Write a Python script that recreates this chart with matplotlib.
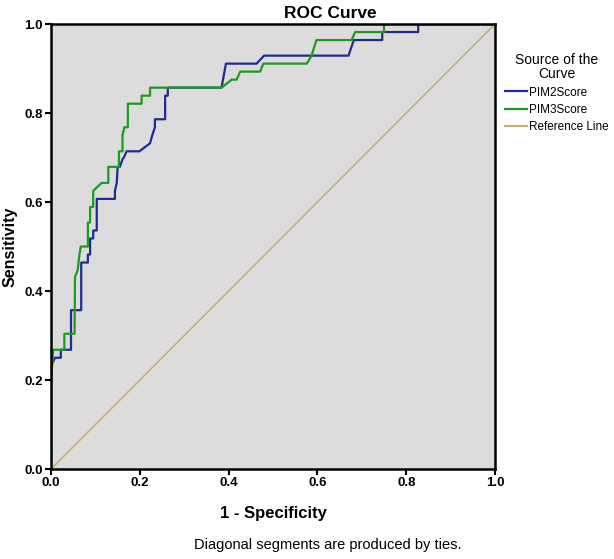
import matplotlib
matplotlib.use("Agg")
import matplotlib.pyplot as plt
from matplotlib.lines import Line2D

plt.rcParams['font.family'] = ['Liberation Sans', 'DejaVu Sans']

# ROC vertices (1 - specificity, sensitivity)
pim2_fpr = [0.0, 0.0, 0.009, 0.022, 0.022, 0.045, 0.045, 0.068, 0.068, 0.083, 0.083,
            0.088, 0.088, 0.095, 0.095, 0.103, 0.103, 0.144, 0.144, 0.148, 0.150,
            0.155, 0.161, 0.165, 0.170, 0.174, 0.199, 0.223, 0.228, 0.234, 0.234,
            0.257, 0.257, 0.263, 0.263, 0.384, 0.394, 0.463, 0.480, 0.670, 0.682,
            0.746, 0.746, 0.827, 0.827, 1.0]
pim2_tpr = [0.0, 0.232, 0.250, 0.250, 0.268, 0.268, 0.357, 0.357, 0.464, 0.464, 0.482,
            0.482, 0.518, 0.518, 0.536, 0.536, 0.607, 0.607, 0.625, 0.643, 0.679,
            0.679, 0.696, 0.702, 0.714, 0.714, 0.714, 0.732, 0.750, 0.768, 0.786,
            0.786, 0.839, 0.839, 0.857, 0.857, 0.911, 0.911, 0.929, 0.929, 0.964,
            0.964, 0.982, 0.982, 1.0, 1.0]

pim3_fpr = [0.0, 0.0, 0.005, 0.030, 0.030, 0.053, 0.054, 0.060, 0.064, 0.067, 0.083,
            0.083, 0.088, 0.088, 0.095, 0.095, 0.114, 0.129, 0.129, 0.153, 0.153,
            0.161, 0.161, 0.165, 0.173, 0.173, 0.204, 0.204, 0.223, 0.223, 0.384,
            0.407, 0.418, 0.426, 0.471, 0.478, 0.576, 0.587, 0.592, 0.598, 0.677,
            0.685, 0.750, 0.750, 1.0]
pim3_tpr = [0.0, 0.196, 0.268, 0.268, 0.304, 0.304, 0.432, 0.446, 0.482, 0.500, 0.500,
            0.554, 0.554, 0.589, 0.589, 0.625, 0.643, 0.643, 0.679, 0.679, 0.714,
            0.714, 0.750, 0.768, 0.768, 0.821, 0.821, 0.839, 0.839, 0.857, 0.857,
            0.875, 0.875, 0.893, 0.893, 0.911, 0.911, 0.929, 0.946, 0.964, 0.964,
            0.982, 0.982, 1.0, 1.0]

ref_x = [0.0, 1.0]
ref_y = [0.0, 1.0]

ticks = [0.0, 0.2, 0.4, 0.6, 0.8, 1.0]
tick_labels = ['0.0', '0.2', '0.4', '0.6', '0.8', '1.0']

blue = '#1f2c8f'
green = '#1e9a22'
tan = '#c4b06a'

fig = plt.figure(figsize=(6.14, 5.59), dpi=100)
ax = fig.add_axes([0.0831, 0.161, 0.7231, 0.796])
ax.set_facecolor('#dcdcdc')

ax.plot(ref_x, ref_y, color=tan, lw=1.2)
ax.plot(pim2_fpr, pim2_tpr, color=blue, lw=1.6)
ax.plot(pim3_fpr, pim3_tpr, color=green, lw=1.6)

ax.set_xlim(0, 1)
ax.set_ylim(0, 1)
ax.set_xticks(ticks)
ax.set_yticks(ticks)
ax.set_xticklabels(tick_labels, fontweight='bold', fontsize=9.5)
ax.set_yticklabels(tick_labels, fontweight='bold', fontsize=9.5)
ax.tick_params(direction='out', length=4, width=1.5, pad=2)
for s in ax.spines.values():
    s.set_linewidth(1.8)

ax.set_title('ROC Curve', fontweight='bold', fontsize=12.5, x=0.63, y=1.0, pad=4)
ax.set_xlabel('1 - Specificity', fontweight='bold', fontsize=12, labelpad=12)
ax.set_ylabel('Sensitivity', fontweight='bold', fontsize=11.5)
ax.yaxis.set_label_coords(-0.076, 0.5)

fig.text(0.533, 0.018, 'Diagonal segments are produced by ties.', ha='center',
         fontsize=10.5)

handles = [Line2D([], [], color=blue, lw=1.6),
           Line2D([], [], color=green, lw=1.6),
           Line2D([], [], color=tan, lw=1.6)]
leg = ax.legend(handles, ['PIM2Score', 'PIM3Score', 'Reference Line'],
                title='Source of the\nCurve', loc='upper left',
                bbox_to_anchor=(1.012, 0.945), frameon=False, fontsize=8.5,
                title_fontsize=10, handlelength=1.9, handletextpad=0.1,
                labelspacing=0.45, borderaxespad=0, alignment='center')
leg.get_title().set_multialignment('center')
leg.get_title().set_linespacing(1.0)

fig.savefig('out.png', dpi=100)
